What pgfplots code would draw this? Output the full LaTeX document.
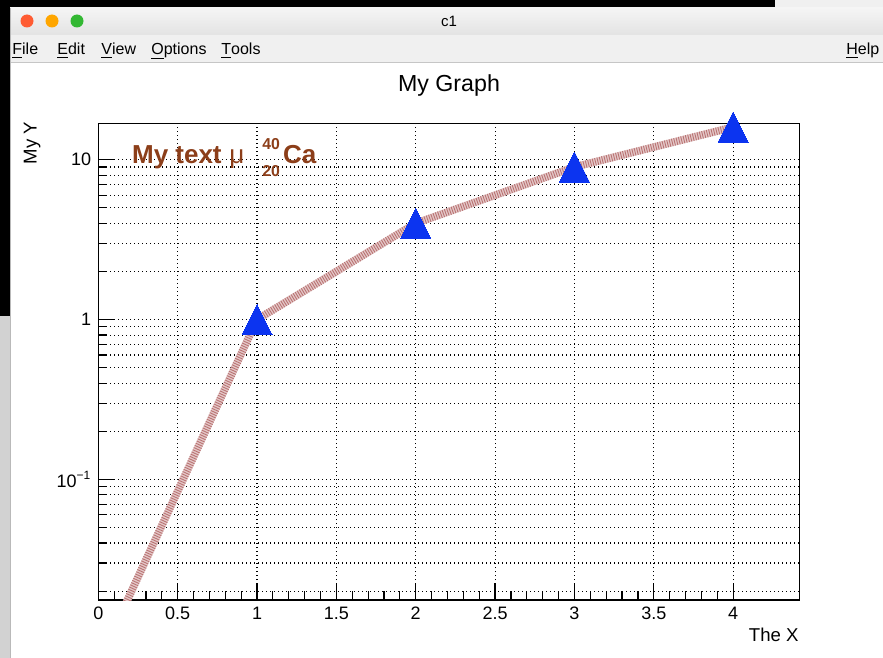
\documentclass[border=0pt]{standalone}
\usepackage{pgfplots}
\pgfplotsset{compat=1.18}
\usepackage{fontspec}
\setmainfont{Liberation Sans}

\definecolor{markblue}{RGB}{12,52,240}
\definecolor{txtbrown}{RGB}{140,62,25}
\definecolor{linepink}{RGB}{228,200,200}
\definecolor{linestripe}{RGB}{185,115,115}

\begin{document}
\begin{tikzpicture}
% window (1px = 0.5pt, origin at top left)
\useasboundingbox (0,0) rectangle (441.5pt,-329pt);
\fill[white] (0,0) rectangle (441.5pt,-329pt);
\fill[black] (0,0) rectangle (441.5pt,-4pt);
\fill[gray!12] (387.5pt,0) rectangle (441.5pt,-4pt);
\fill[black] (0,0) rectangle (5pt,-158pt);
\fill[gray!35] (0,-158pt) rectangle (5pt,-329pt);
\shade[top color=gray!8, bottom color=gray!22] (5pt,-4pt) rectangle (441.5pt,-17.5pt);
\fill[gray!12] (5pt,-17.5pt) rectangle (441.5pt,-31.5pt);
\draw[gray!45, line width=0.5pt] (5pt,-31.5pt) -- (441.5pt,-31.5pt);
\draw[gray!55, line width=0.5pt] (5pt,-4pt) -- (5pt,-329pt);
\fill[red!60!orange!80] (13.5pt,-10.5pt) circle (3.25pt);
\fill[orange!70!yellow] (26pt,-10.5pt) circle (3.25pt);
\fill[green!65!black!80] (38.5pt,-10.5pt) circle (3.25pt);
\node[font=\fontsize{7.5}{9}\selectfont] at (224.5pt,-10.5pt) {c1};
\begin{scope}[every node/.style={anchor=base west, inner sep=0pt, font=\fontsize{8}{9}\selectfont}]
\node at (6pt,-27.5pt) {\underline{F}ile};
\node at (28.5pt,-27.5pt) {\underline{E}dit};
\node at (50.5pt,-27.5pt) {\underline{V}iew};
\node at (75.5pt,-27.5pt) {\underline{O}ptions};
\node at (110.5pt,-27.5pt) {\underline{T}ools};
\node at (423pt,-27.5pt) {\underline{H}elp};
\end{scope}

\begin{axis}[
  at={(49.15pt,-300pt)}, anchor=south west,
  scale only axis, width=350.5pt, height=238.35pt,
  xmin=0, xmax=4.417,
  ymode=log, ymin=0.0176, ymax=16.9,
  xtick={0,0.5,1,1.5,2,2.5,3,3.5,4},
  xticklabels={0,0.5,1,1.5,2,2.5,3,3.5,4},
  minor x tick num=4,
  ytick={0.1,1,10},
  yticklabels={10\textsuperscript{−1},1,10},
  minor ytick={0.02,0.03,0.04,0.05,0.06,0.07,0.08,0.09,
               0.2,0.3,0.4,0.5,0.6,0.7,0.8,0.9,
               2,3,4,5,6,7,8,9},
  tick align=inside, tick pos=left,
  major tick length=8.5pt, minor tick length=4.5pt,
  tick style={black, line width=0.6pt},
  axis line style={line width=0.7pt},
  xmajorgrids=true, ymajorgrids=true, yminorgrids=true,
  major grid style={black, line width=0.55pt, dash pattern=on 0.55pt off 1.45pt},
  minor grid style={black, line width=0.55pt, dash pattern=on 0.55pt off 1.45pt},
  ticklabel style={font=\fontsize{9}{10}\selectfont},
  clip mode=individual,
]
\addplot[linepink, line width=3.8pt] coordinates {(0,0.0071) (1,1) (2,4) (3,9) (4,16)};
\addplot[linestripe, line width=3.8pt, dash pattern=on 0.45pt off 0.75pt] coordinates {(0,0.0071) (1,1) (2,4) (3,9) (4,16)};
\addplot[only marks, mark=triangle*, mark size=10pt,
  mark options={markblue, fill=markblue, line width=0pt, xscale=0.866, yshift=-2.5pt}]
  coordinates {(1,1) (2,4) (3,9) (4,16)};
\end{axis}

% titles
\node[anchor=base, inner sep=0pt, font=\fontsize{11.6}{13}\selectfont] at (224.5pt,-45.85pt) {My Graph};
\node[anchor=base east, inner sep=0pt, font=\fontsize{9.3}{11}\selectfont] at (399.5pt,-320.8pt) {The X};
\node[anchor=base east, rotate=90, inner sep=0pt, font=\fontsize{9.3}{11}\selectfont] at (18.35pt,-60.85pt) {My Y};

% text label
\begin{scope}[every node/.style={inner sep=0pt, text=txtbrown}]
\node[anchor=base west, font=\fontsize{13}{15}\selectfont\bfseries] at (65.85pt,-81.65pt) {My text};
\node[anchor=base west, font=\fontsize{13}{15}\selectfont] at (114.5pt,-81.65pt) {μ};
\node[anchor=base west, font=\fontsize{7.9}{9}\selectfont\bfseries] at (131pt,-74.65pt) {40};
\node[anchor=base west, font=\fontsize{7.9}{9}\selectfont\bfseries] at (131pt,-88.35pt) {20};
\node[anchor=base west, font=\fontsize{13}{15}\selectfont\bfseries] at (141.35pt,-81.65pt) {Ca};
\end{scope}
\end{tikzpicture}
\end{document}
